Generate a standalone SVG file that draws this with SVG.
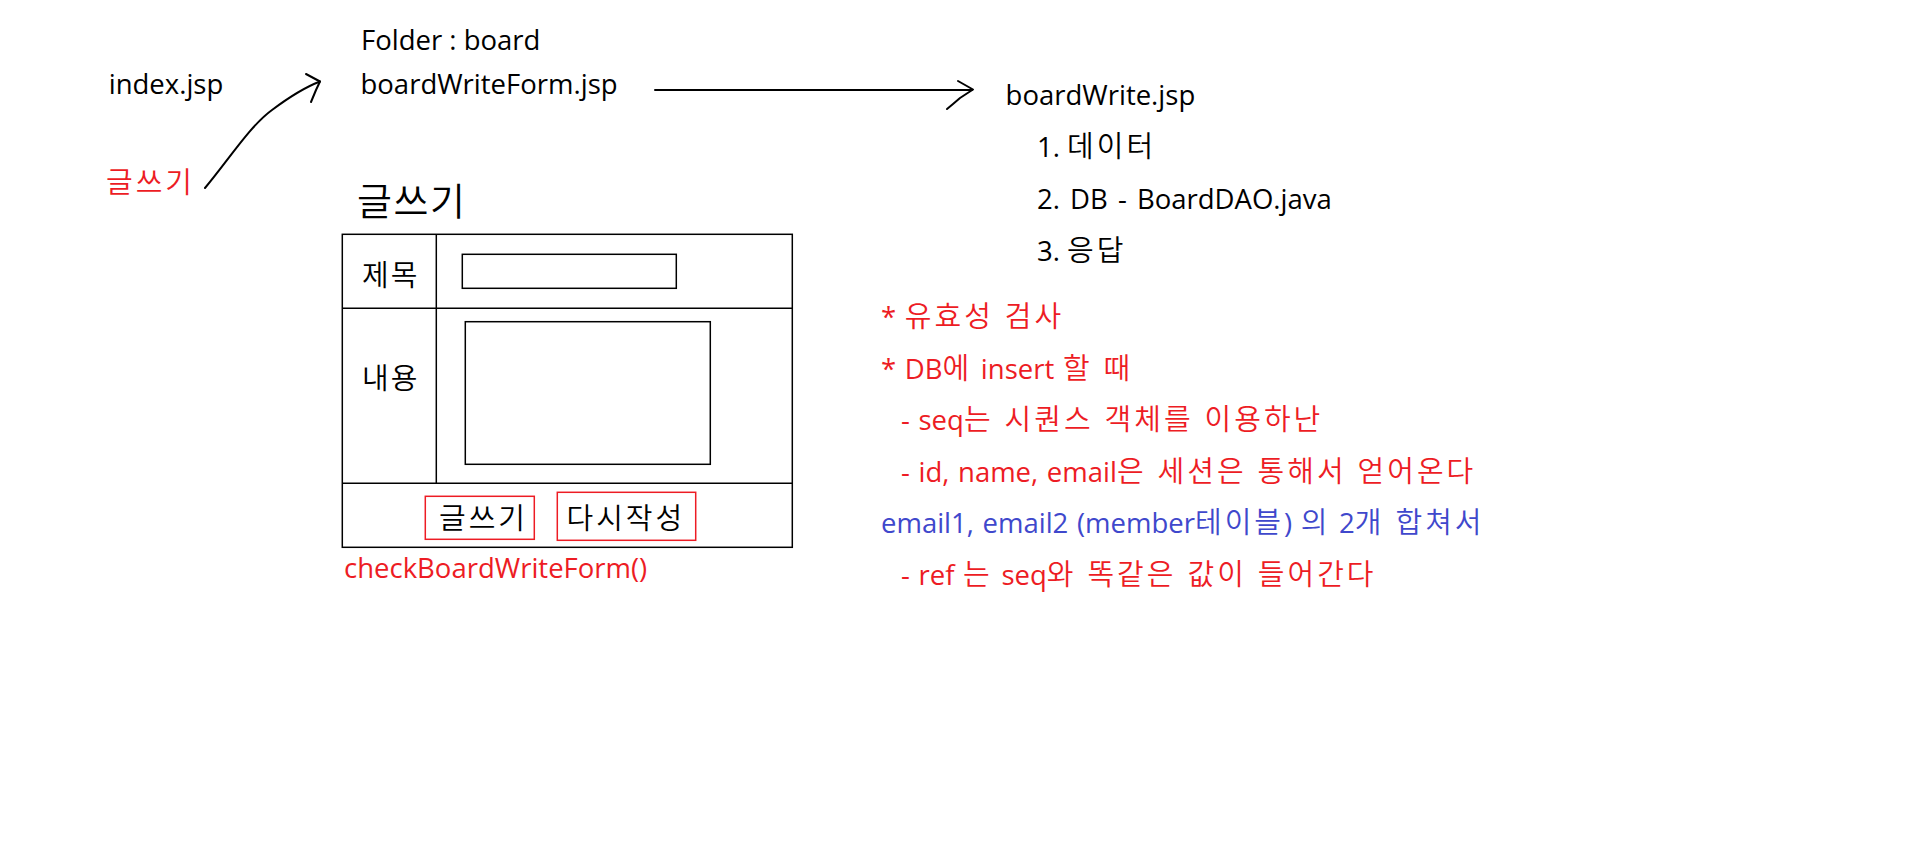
<svg xmlns="http://www.w3.org/2000/svg" width="1911" height="867" viewBox="0 0 1911 867">
<style>
text{font-family:"Open Sans","Noto Sans CJK KR",sans-serif;font-size:27.5px;fill:#000}
.k,.h{font-family:"Noto Sans CJK KR","Open Sans",sans-serif;font-size:29px;letter-spacing:3px;font-weight:350}
.w{word-spacing:1.5px}
.red{fill:#ED1C24}
.blue{fill:#3F48CC}
.box{fill:none;stroke:#000;stroke-width:1.5}
.rbox{fill:none;stroke:#ED1C24;stroke-width:1.5}
.pen{fill:none;stroke:#000;stroke-width:2;stroke-linecap:round;stroke-linejoin:round}
</style>
<rect width="1911" height="867" fill="#fff"/>
<g id="connectors">
<path class="pen" d="M205,188 C230,158 250,126 272,110 C288,98 303,88 320,81.5"/>
<path class="pen" d="M306,74 L320,81.5 L316,90 L311,102"/>
<path class="pen" d="M655,90 L972,90"/>
<path class="pen" d="M958,81 L973,89.5 L960,98 L953,104 L947,109"/>
</g>
<g id="index"><text x="108.7" y="94">index.jsp</text></g>
<g id="write-link"><text class="k red" x="106" y="193">글쓰기</text></g>
<g id="folder"><text x="361" y="49.5">Folder : board</text></g>
<g id="boardWriteForm"><text x="360.5" y="94">boardWriteForm.jsp</text></g>
<g id="boardWrite">
<text x="1005.6" y="105">boardWrite.jsp</text>
<text x="1037" y="157">1. <tspan class="h">데이터</tspan></text>
<text x="1037" y="209" style="word-spacing:3px">2. DB - BoardDAO.java</text>
<text x="1037" y="261">3. <tspan class="h">응답</tspan></text>
</g>
<g id="form">
<text class="k" x="357" y="215" style="font-size:38px;letter-spacing:1.5px">글쓰기</text>
<rect class="box" x="342.3" y="234.3" width="450" height="313"/>
<line class="box" x1="436.3" y1="234.3" x2="436.3" y2="483.3"/>
<line class="box" x1="342.3" y1="308.3" x2="792.3" y2="308.3"/>
<line class="box" x1="342.3" y1="483.3" x2="792.3" y2="483.3"/>
<rect class="box" x="462.3" y="254.3" width="214" height="34"/>
<rect class="box" x="465.3" y="321.7" width="245" height="142.6"/>
<text class="k" x="362" y="285.5" style="letter-spacing:2px">제목</text>
<text class="k" x="362" y="389" style="letter-spacing:2px">내용</text>
<rect class="rbox" x="425.3" y="496.3" width="109" height="43"/>
<text class="k" x="439" y="529">글쓰기</text>
<rect class="rbox" x="557.3" y="492.3" width="138.4" height="48"/>
<text class="k" x="566.5" y="529">다시작성</text>
<text class="red" x="344" y="578">checkBoardWriteForm()</text>
</g>
<g id="notes">
<text class="red w" x="881" y="327">* <tspan class="h">유효성 검사</tspan></text>
<text class="red w" x="881" y="378.5">* DB<tspan class="h">에</tspan> insert <tspan class="h">할 때</tspan></text>
<text class="red w" x="901" y="430">- seq<tspan class="h">는 시퀀스 객체를 이용하난</tspan></text>
<text class="red w" x="901" y="481.5">- id, name, email<tspan class="h">은 세션은 통해서 얻어온다</tspan></text>
<text class="blue w" x="881" y="533">email1, email2 (member<tspan class="h">테이블</tspan>) <tspan class="h">의</tspan> 2<tspan class="h">개 합쳐서</tspan></text>
<text class="red w" x="901" y="584.5">- ref <tspan class="h">는</tspan> seq<tspan class="h">와 똑같은 값이 들어간다</tspan></text>
</g>
</svg>
